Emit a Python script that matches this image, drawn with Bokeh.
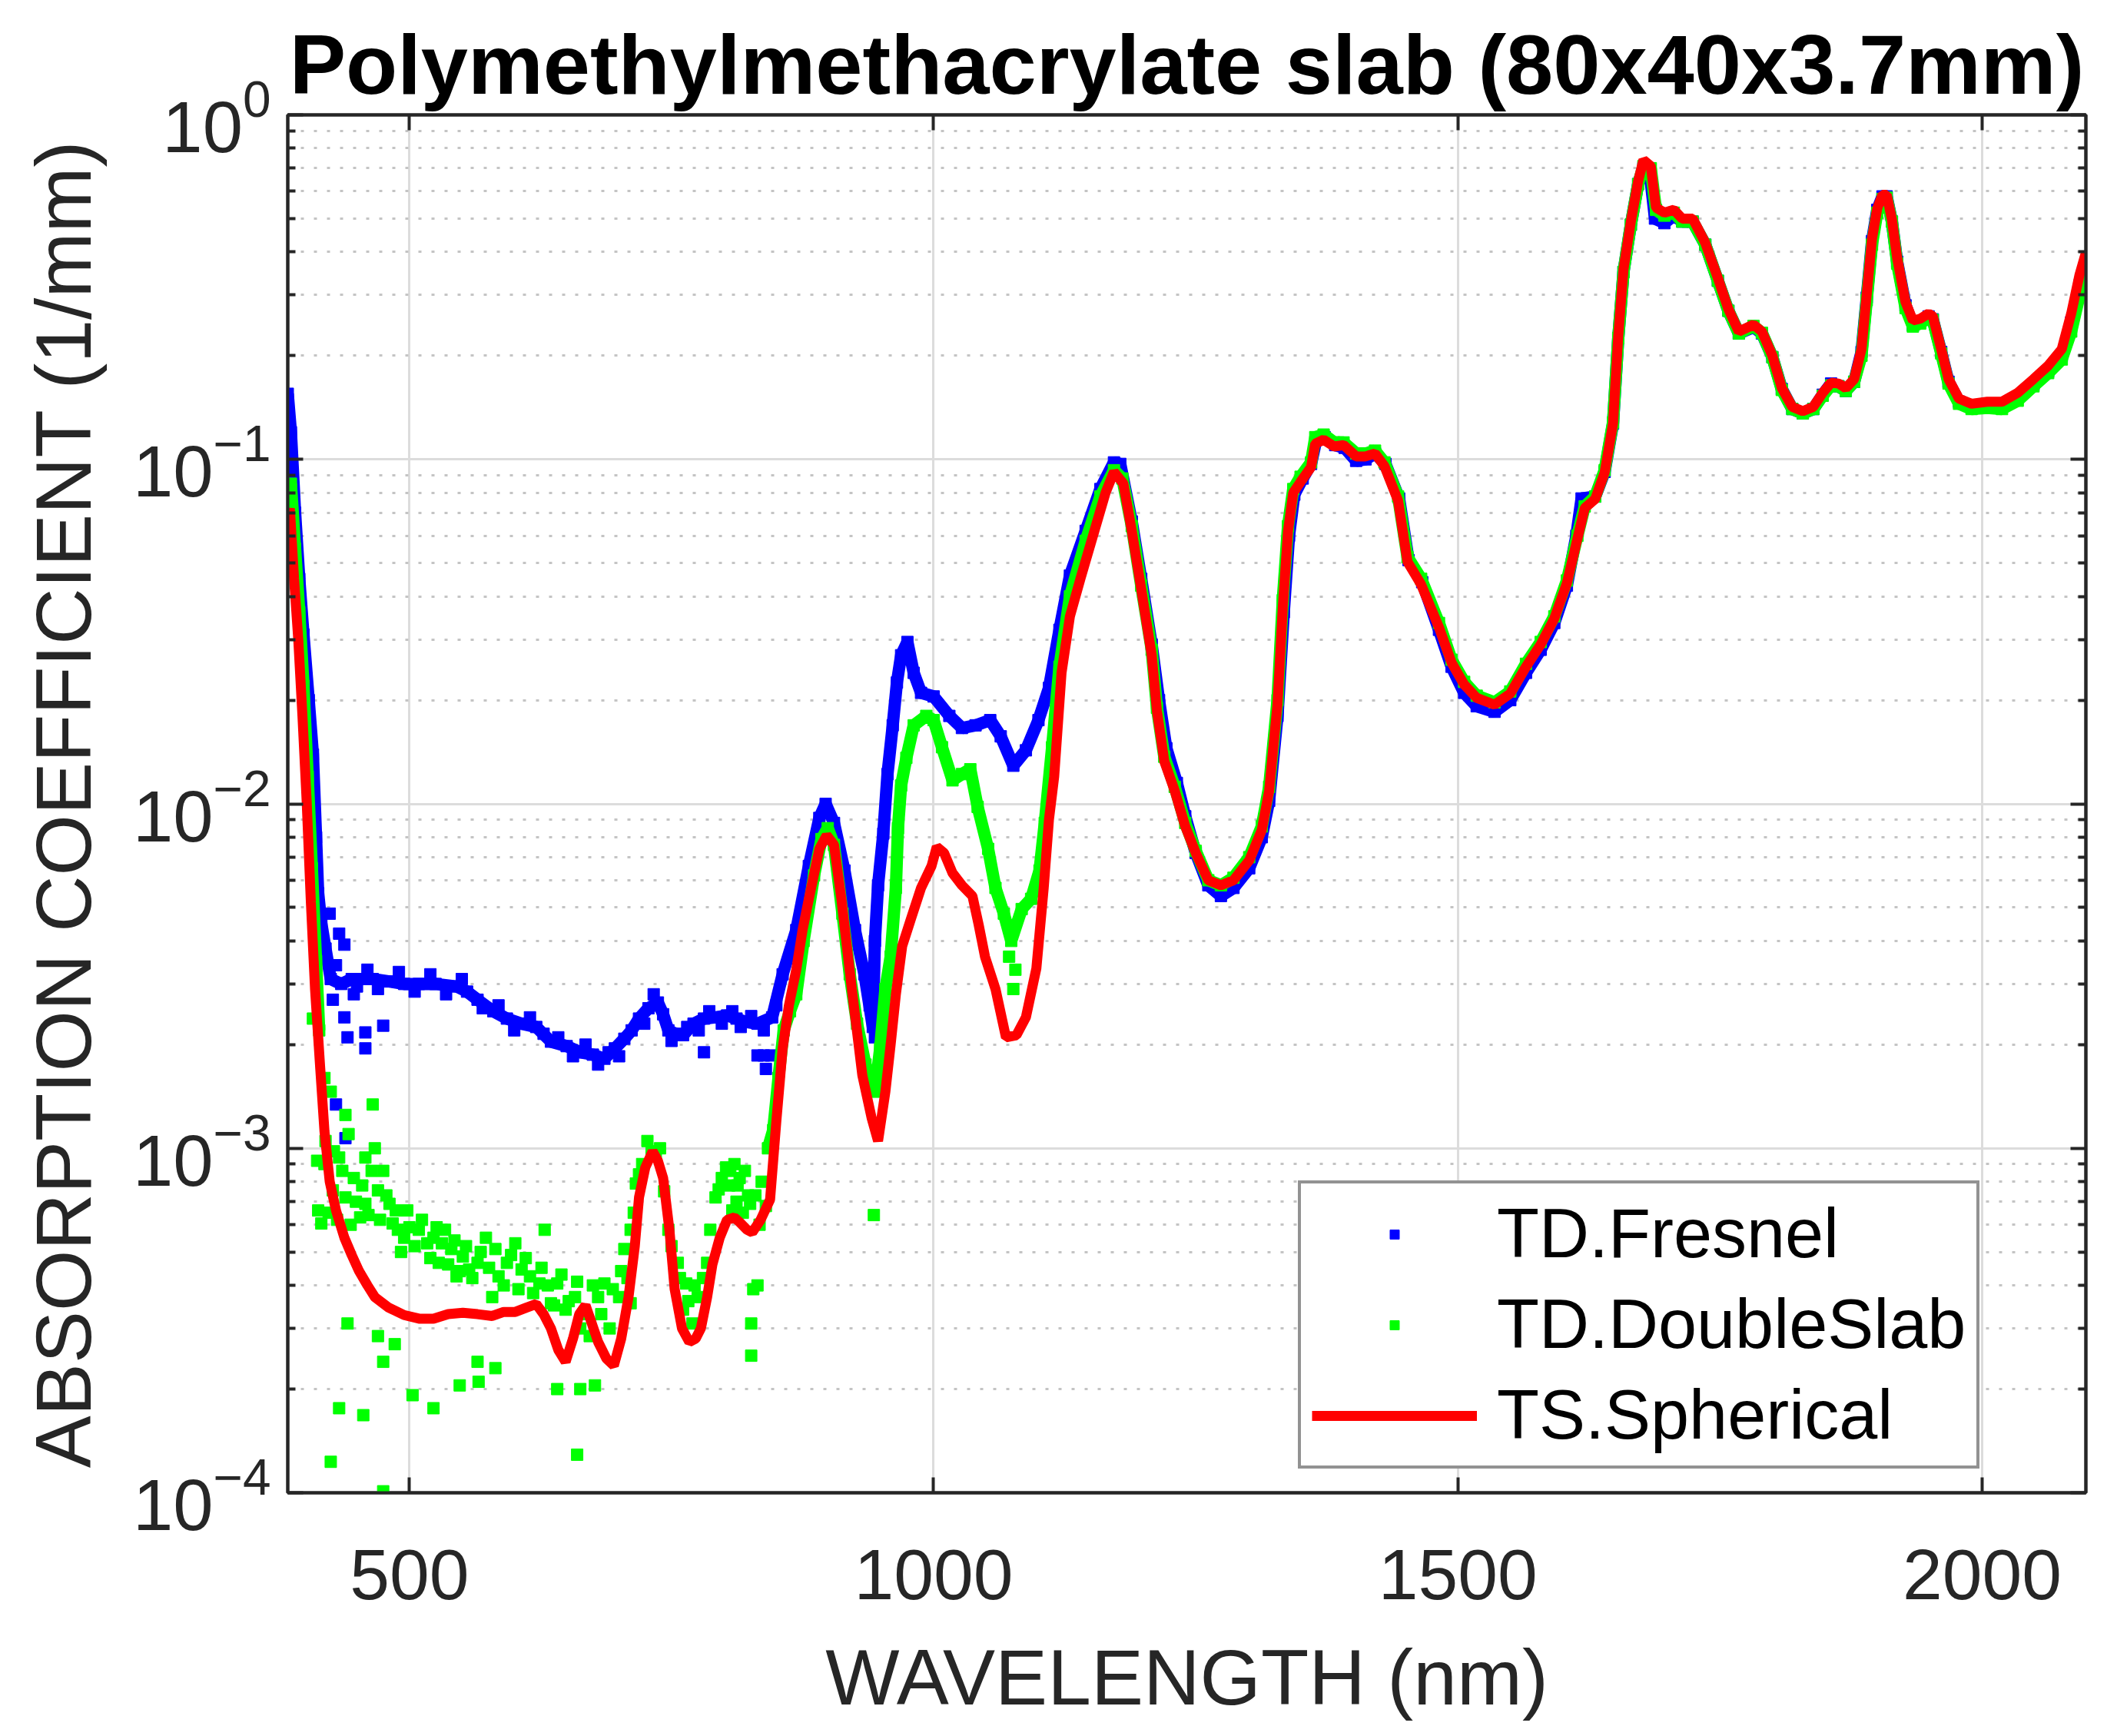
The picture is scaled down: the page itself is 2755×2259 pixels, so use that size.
import math
from bokeh.plotting import figure
from bokeh.models import (Range1d, FixedTicker, LinearAxis, LogAxis, Legend, LegendItem,
                          ColumnDataSource)
from bokeh.embed import file_html
from bokeh.resources import INLINE

NAN = float("nan")

# ---------------- data ----------------
title_text = "Polymethylmethacrylate slab (80x40x3.7mm)"
x_label = "WAVELENGTH (nm)"
y_label = "ABSORPTION COEFFICIENT (1/mm)"
series_names = ["TD.Fresnel", "TD.DoubleSlab", "TS.Spherical"]
x_ticks = [500, 1000, 1500, 2000]
y_ticks = [1e-4, 1e-3, 1e-2, 1e-1, 1e0]

red_wl = [384, 386, 390, 394, 398, 402, 406, 410, 415, 419, 424, 430, 438, 445, 452, 460, 467, 480, 495,
          510, 523, 537, 551, 565, 579, 590, 601, 612, 621, 628, 635, 642, 649, 656, 662, 668, 674, 680,
          688, 695, 702, 709, 715, 719, 725, 732, 737, 742, 748, 753, 760, 767, 773, 778, 784, 789, 796,
          803, 810, 815, 822, 827, 835, 844, 850, 856, 862, 869, 875, 881, 891, 898, 905, 912, 922, 932,
          941, 947, 954, 959, 964, 970, 978, 988, 998, 1003, 1010, 1018, 1027, 1037, 1043, 1049, 1059,
          1069, 1079, 1088, 1098, 1105, 1110, 1115, 1122, 1130, 1140, 1152, 1164, 1172, 1181, 1189, 1198,
          1208, 1213, 1220, 1230, 1240, 1250, 1262, 1274, 1286, 1301, 1313, 1320, 1328, 1333, 1338, 1343,
          1350, 1360, 1364, 1372, 1382, 1391, 1403, 1412, 1421, 1430, 1443, 1452, 1465, 1482, 1494, 1506,
          1518, 1535, 1550, 1565, 1579, 1592, 1604, 1614, 1621, 1631, 1640, 1648, 1653, 1658, 1665, 1672,
          1677, 1684, 1689, 1697, 1706, 1714, 1724, 1736, 1748, 1758, 1768, 1782, 1790, 1800, 1809, 1819,
          1829, 1839, 1848, 1856, 1863, 1870, 1878, 1885, 1890, 1895, 1900, 1905, 1909, 1914, 1919, 1927,
          1934, 1941, 1949, 1953, 1961, 1968, 1978, 1990, 2005, 2019, 2034, 2049, 2063, 2076, 2085, 2093,
          2099]
red_ab = [0.068, 0.072, 0.045, 0.030, 0.018, 0.0102, 5.2e-3, 2.9e-3, 1.7e-3, 1.12e-3, 8.0e-4, 6.6e-4,
          5.5e-4, 4.9e-4, 4.4e-4, 4.0e-4, 3.7e-4, 3.45e-4, 3.28e-4, 3.2e-4, 3.2e-4, 3.3e-4, 3.33e-4,
          3.3e-4, 3.26e-4, 3.35e-4, 3.35e-4, 3.45e-4, 3.53e-4, 3.3e-4, 3.0e-4, 2.6e-4, 2.4e-4, 2.8e-4,
          3.3e-4, 3.5e-4, 3.1e-4, 2.74e-4, 2.45e-4, 2.34e-4, 2.8e-4, 3.7e-4, 5.2e-4, 7.2e-4, 8.8e-4,
          9.8e-4, 9.2e-4, 8.2e-4, 5.8e-4, 3.9e-4, 3.0e-4, 2.74e-4, 2.8e-4, 3.0e-4, 3.7e-4, 4.6e-4, 5.5e-4,
          6.2e-4, 6.3e-4, 6.1e-4, 5.8e-4, 5.7e-4, 6.2e-4, 7.1e-4, 1.2e-3, 1.95e-3, 2.6e-3, 3.3e-3, 4.3e-3,
          5.3e-3, 7.4e-3, 8.1e-3, 7.6e-3, 5.3e-3, 2.9e-3, 1.63e-3, 1.22e-3, 1.05e-3, 1.46e-3, 2.0e-3,
          2.8e-3, 3.86e-3, 4.6e-3, 5.7e-3, 6.6e-3, 7.5e-3, 7.2e-3, 6.3e-3, 5.8e-3, 5.4e-3, 4.45e-3, 3.6e-3,
          2.9e-3, 2.1e-3, 2.13e-3, 2.4e-3, 3.33e-3, 5.7e-3, 9.0e-3, 1.2e-2, 2.4e-2, 3.5e-2, 4.5e-2, 6.0e-2,
          8.0e-2, 0.092, 0.085, 0.062, 0.042, 0.027, 0.0186, 0.0133, 0.0109, 8.6e-3, 7.2e-3, 6.0e-3,
          5.8e-3, 6.0e-3, 6.85e-3, 8.4e-3, 0.0109, 0.0195, 0.037, 0.062, 0.080, 0.086, 0.095, 0.111, 0.114,
          0.109, 0.110, 0.102, 0.102, 0.104, 0.0955, 0.0758, 0.0504, 0.0433, 0.0325, 0.0257, 0.0222, 0.0203,
          0.0194, 0.0209, 0.025, 0.029, 0.0345, 0.0437, 0.0588, 0.0722, 0.0767, 0.0916, 0.127, 0.229, 0.356,
          0.49, 0.643, 0.74, 0.71, 0.538, 0.52, 0.53, 0.50, 0.50, 0.425, 0.336, 0.273, 0.235, 0.246, 0.235,
          0.200, 0.161, 0.142, 0.138, 0.142, 0.156, 0.167, 0.166, 0.161, 0.171, 0.209, 0.302, 0.436, 0.535,
          0.586, 0.586, 0.497, 0.384, 0.286, 0.253, 0.256, 0.265, 0.260, 0.209, 0.171, 0.150, 0.145, 0.147,
          0.147, 0.156, 0.171, 0.187, 0.209, 0.265, 0.344, 0.398]

blue_wl = [384, 387, 391, 395, 399, 404, 408, 411, 413, 416, 420, 425, 435, 445, 453, 465, 481, 495, 509,
           525, 545, 555, 565, 580, 593, 607, 621, 635, 650, 663, 675, 686, 696, 705, 712, 719, 728, 737,
           742, 747, 754, 761, 771, 781, 792, 803, 812, 820, 832, 846, 856, 869, 881, 891, 897, 905, 915,
           925, 934, 942, 944, 947, 952, 956, 961, 965, 969, 975, 981, 988, 1000, 1015, 1027, 1040, 1054,
           1064, 1076, 1088, 1100, 1110, 1120, 1130, 1145, 1159, 1172, 1178, 1189, 1198, 1208, 1215, 1222,
           1232, 1240, 1250, 1262, 1274, 1286, 1301, 1313, 1320, 1328, 1334, 1339, 1344, 1352, 1360, 1365,
           1373, 1383, 1392, 1403, 1412, 1421, 1431, 1444, 1453, 1466, 1482, 1494, 1506, 1518, 1535, 1550,
           1565, 1579, 1592, 1604, 1613, 1618, 1631, 1640, 1648, 1653, 1658, 1665, 1672, 1677, 1683, 1688,
           1697, 1706, 1714, 1724, 1736, 1748, 1758, 1768, 1782, 1790, 1800, 1809, 1819, 1829, 1839, 1848,
           1856, 1863, 1870, 1878, 1885, 1890, 1895, 1900, 1905, 1909, 1914, 1919, 1927, 1934, 1941, 1949,
           1953, 1961, 1968, 1978, 1990, 2005, 2019, 2034, 2049, 2063, 2076, 2085, 2093, 2099]
blue_ab = [0.155, 0.12, 0.07, 0.045, 0.031, 0.020, 0.0139, 8.0e-3, 5.5e-3, 4.5e-3, 3.8e-3, 3.1e-3, 3.0e-3,
           3.1e-3, 3.1e-3, 3.1e-3, 3.05e-3, 3.0e-3, 3.0e-3, 3.0e-3, 2.95e-3, 2.85e-3, 2.7e-3, 2.5e-3,
           2.38e-3, 2.3e-3, 2.25e-3, 2.04e-3, 1.98e-3, 1.9e-3, 1.87e-3, 1.82e-3, 1.95e-3, 2.08e-3, 2.2e-3,
           2.38e-3, 2.55e-3, 2.65e-3, 2.45e-3, 2.2e-3, 2.15e-3, 2.13e-3, 2.3e-3, 2.38e-3, 2.4e-3, 2.43e-3,
           2.38e-3, 2.33e-3, 2.3e-3, 2.4e-3, 3.2e-3, 4.3e-3, 6.6e-3, 9.1e-3, 1.0e-2, 8.8e-3, 6.4e-3, 4.3e-3,
           3.2e-3, 2.25e-3, 4.0e-3, 5.8e-3, 8.2e-3, 1.22e-2, 1.69e-2, 2.25e-2, 2.7e-2, 2.95e-2, 2.4e-2,
           2.1e-2, 2.05e-2, 1.8e-2, 1.66e-2, 1.69e-2, 1.75e-2, 1.57e-2, 1.29e-2, 1.43e-2, 1.75e-2, 2.17e-2,
           3.2e-2, 4.6e-2, 6.2e-2, 8.2e-2, 0.098, 0.097, 0.066, 0.045, 0.029, 0.020, 0.0145, 0.0115, 9.2e-3,
           7.2e-3, 5.8e-3, 5.4e-3, 5.7e-3, 6.5e-3, 8.0e-3, 0.0102, 0.018, 0.036, 0.060, 0.079, 0.088, 0.097,
           0.114, 0.116, 0.110, 0.108, 0.099, 0.100, 0.104, 0.097, 0.077, 0.051, 0.044, 0.032, 0.025, 0.021,
           0.0192, 0.0185, 0.020, 0.024, 0.028, 0.0335, 0.043, 0.060, 0.077, 0.078, 0.092, 0.127, 0.225,
           0.35, 0.48, 0.63, 0.70, 0.68, 0.50, 0.485, 0.51, 0.49, 0.49, 0.42, 0.33, 0.27, 0.232, 0.242, 0.232,
           0.198, 0.160, 0.140, 0.136, 0.140, 0.154, 0.166, 0.163, 0.158, 0.168, 0.205, 0.295, 0.43, 0.53,
           0.58, 0.58, 0.49, 0.375, 0.28, 0.245, 0.25, 0.26, 0.255, 0.205, 0.168, 0.147, 0.143, 0.145, 0.145,
           0.152, 0.165, 0.180, 0.200, 0.250, 0.320, 0.370]

blue_scatter_wl = [410, 416, 424, 427, 430, 433, 438, 438, 439, 441, 450, 458, 458, 475, 781, 832, 838,
                   845, 840, 942, 944, 944, 939,
                   430, 447, 460, 470, 490, 505, 520, 535, 550, 570, 585, 600, 615, 628, 642, 656, 668,
                   680, 690, 700, 724, 733, 750, 765, 776, 786, 798, 808, 816, 826, 838, 850]
blue_scatter_ab = [5.5e-3, 4.2e-3, 4.8e-3, 2.7e-3, 1.34e-3, 4.2e-3, 3.9e-3, 2.4e-3, 1.07e-3, 2.1e-3,
                   2.95e-3, 2.17e-3, 1.95e-3, 2.27e-3, 1.9e-3, 1.86e-3, 1.86e-3, 1.86e-3, 1.7e-3, 3.2e-3,
                   2.1e-3, 2.8e-3, 2.6e-3,
                   3.4e-3, 2.8e-3, 3.3e-3, 2.9e-3, 3.25e-3, 2.85e-3, 3.2e-3, 2.8e-3, 3.1e-3, 2.55e-3,
                   2.6e-3, 2.2e-3, 2.4e-3, 2.15e-3, 2.1e-3, 1.85e-3, 2.0e-3, 1.75e-3, 1.9e-3, 1.85e-3,
                   2.3e-3, 2.8e-3, 2.05e-3, 2.25e-3, 2.2e-3, 2.5e-3, 2.3e-3, 2.5e-3, 2.25e-3, 2.42e-3,
                   2.2e-3, 2.6e-3]

green_wl = [384, 387, 391, 395, 399, 403, 407, 411, 414, NAN, 842, 847, 852, 857, 863, 869, 876, 886,
            893, 899, 905, 913, 920, 927, 935, 944, 949, 954, 959, 964, 966, 969, 974, 981, 993, 1000,
            1008, 1018, 1027, 1035, 1042, 1052, 1059, 1067, 1074, 1084, 1093, 1101, 1106, 1113, 1120, 1130,
            1145, 1159, 1172, 1180, 1189, 1198, 1208, 1213, 1220, 1230, 1240, 1250, 1262, 1274, 1286, 1301,
            1313, 1320, 1328, 1333, 1338, 1343, 1350, 1360, 1364, 1372, 1382, 1391, 1403, 1412, 1421, 1430,
            1443, 1452, 1465, 1482, 1494, 1506, 1518, 1535, 1550, 1565, 1579, 1592, 1604, 1614, 1621, 1631,
            1640, 1648, 1653, 1658, 1665, 1672, 1677, 1684, 1689, 1697, 1706, 1714, 1724, 1736, 1748, 1758,
            1768, 1782, 1790, 1800, 1809, 1819, 1829, 1839, 1848, 1856, 1863, 1870, 1878, 1885, 1890, 1895,
            1900, 1905, 1909, 1914, 1919, 1927, 1934, 1941, 1949, 1953, 1961, 1968, 1978, 1990, 2005, 2019,
            2034, 2049, 2063, 2076, 2085, 2093, 2099]
green_ab = [0.082, 0.085, 0.055, 0.036, 0.022, 0.012, 6.5e-3, 3.5e-3, 2.2e-3, NAN, 1.0e-3, 1.13e-3,
            1.6e-3, 2.2e-3, 2.5e-3, 2.8e-3, 4.0e-3, 6.2e-3, 7.9e-3, 8.5e-3, 7.6e-3, 4.8e-3, 3.2e-3, 2.3e-3,
            1.75e-3, 1.46e-3, 1.95e-3, 2.9e-3, 3.6e-3, 5.7e-3, 8.5e-3, 1.13e-2, 1.36e-2, 1.69e-2, 1.8e-2,
            1.75e-2, 1.46e-2, 1.17e-2, 1.22e-2, 1.26e-2, 9.8e-3, 7.4e-3, 5.7e-3, 4.8e-3, 4.0e-3, 4.95e-3,
            5.3e-3, 6.4e-3, 8.8e-3, 1.46e-2, 2.5e-2, 4.0e-2, 5.8e-2, 7.8e-2, 0.093, 0.088, 0.064, 0.043, 0.028,
            0.019, 0.0137, 0.0112, 8.8e-3, 7.3e-3, 6.0e-3, 5.8e-3, 6.1e-3, 7.0e-3, 8.6e-3, 0.0112, 0.020,
            0.039, 0.064, 0.082, 0.089, 0.098, 0.116, 0.118, 0.112, 0.112, 0.104, 0.104, 0.106, 0.098, 0.078,
            0.052, 0.045, 0.0335, 0.0262, 0.0226, 0.0206, 0.0197, 0.0212, 0.0255, 0.0295, 0.035, 0.0445, 0.06,
            0.073, 0.078, 0.093, 0.128, 0.225, 0.35, 0.48, 0.63, 0.71, 0.70, 0.53, 0.51, 0.52, 0.49, 0.49,
            0.42, 0.33, 0.27, 0.232, 0.244, 0.233, 0.198, 0.159, 0.140, 0.136, 0.140, 0.153, 0.164, 0.163,
            0.158, 0.168, 0.200, 0.29, 0.42, 0.52, 0.57, 0.575, 0.49, 0.37, 0.275, 0.243, 0.248, 0.258, 0.254,
            0.203, 0.166, 0.145, 0.140, 0.141, 0.140, 0.148, 0.163, 0.178, 0.195, 0.235, 0.30, 0.356]

green_scatter_wl = [408, 412, 413, 416, 419, 419, 425, 427, 433, 439, 439, 447, 453, 458, 458, 464, 465,
                    470, 475, 481, 484, 489, 495, 500, 509, 517, 523, 528, 534, 540, 545, 551, 557, 565,
                    573, 579, 585, 593, 601, 607, 615, 624, 629, 635, 641, 649, 658, 663, 672, 680, 686,
                    691, 700, 705, 711, 716, 722, 731, 739, 747, 756, 764, 770, 775, 784, 792, 798, 805,
                    806, 810, 812, 815, 818, 820, 823, 826, 826, 828, 830, 832, 836, 840,
                    425, 433, 456, 441, 470, 475, 486, 503, 523, 475, 548, 565, 566, 582, 641, 663, 677,
                    660, 761, 711, 943, 1072, 1076, 1078,
                    420, 423, 428, 431, 436, 442, 444, 449, 455, 461, 467, 472, 478, 487, 492, 498, 505,
                    512, 520, 526, 531, 537, 543, 548, 554, 560, 568, 576, 582, 590, 597, 604, 611, 618,
                    626, 632, 638, 645, 652, 660, 667, 675, 683, 694, 702, 708, 714, 719, 727, 735, 743,
                    750, 758, 766, 772, 780, 787, 795, 802, 808, 813, 825, 834]
green_scatter_ab = [2.38e-3, 9.2e-4, 6.6e-4, 6.05e-4, 9.0e-4, 1.6e-3, 1.46e-3, 7.55e-4, 9.4e-4, 7.2e-4,
                    1.25e-3, 8.2e-4, 6.3e-4, 9.4e-4, 6.9e-4, 8.6e-4, 1.34e-3, 7.55e-4, 8.6e-4, 6.9e-4,
                    6.05e-4, 5.8e-4, 5.5e-4, 5.9e-4, 5.8e-4, 5.3e-4, 5.5e-4, 4.65e-4, 5.8e-4, 5.1e-4,
                    4.25e-4, 4.85e-4, 4.45e-4, 4.65e-4, 5.5e-4, 3.7e-4, 4.25e-4, 4.65e-4, 5.3e-4, 4.45e-4,
                    4.25e-4, 4.05e-4, 5.8e-4, 3.55e-4, 4.05e-4, 3.4e-4, 3.7e-4, 3.0e-4, 2.85e-4, 3.7e-4,
                    4.05e-4, 3.0e-4, 3.7e-4, 5.1e-4, 5.8e-4, 7.9e-4, 9.0e-4, 9.8e-4, 1.0e-3, 5.8e-4, 4.65e-4,
                    4.05e-4, 3.1e-4, 3.7e-4, 4.65e-4, 7.2e-4, 8.2e-4, 7.8e-4, 8.6e-4, 9.0e-4, 7.0e-4, 8.2e-4,
                    6.5e-4, 8.6e-4, 7.3e-4, 2.5e-4, 3.1e-4, 3.9e-4, 7.3e-4, 4.0e-4, 8.0e-4, 6.8e-4,
                    1.23e-4, 1.76e-4, 1.68e-4, 3.1e-4, 2.85e-4, 2.4e-4, 2.7e-4, 1.92e-4, 1.76e-4, 1.01e-4,
                    2.05e-4, 2.4e-4, 2.1e-4, 2.3e-4, 2.0e-4, 2.0e-4, 2.05e-4, 1.29e-4, 3.4e-4, 3.55e-4,
                    6.4e-4, 3.6e-3, 2.9e-3, 3.3e-3,
                    1.05e-3, 6.5e-4, 9.8e-4, 6.2e-4, 8.6e-4, 1.1e-3, 6.0e-4, 7.0e-4, 7.8e-4, 6.4e-4, 1.0e-3,
                    6.2e-4, 7.3e-4, 6.6e-4, 5.0e-4, 6.6e-4, 5.2e-4, 6.2e-4, 4.8e-4, 5.9e-4, 5.3e-4, 4.6e-4,
                    5.4e-4, 4.4e-4, 5.2e-4, 4.2e-4, 5.0e-4, 4.5e-4, 5.1e-4, 4.0e-4, 4.9e-4, 3.9e-4, 4.8e-4,
                    3.8e-4, 4.5e-4, 4.0e-4, 3.5e-4, 4.3e-4, 3.6e-4, 4.1e-4, 3.3e-4, 4.0e-4, 3.3e-4, 3.9e-4,
                    4.4e-4, 4.2e-4, 6.5e-4, 8.4e-4, 1.05e-3, 9.5e-4, 7.5e-4, 5.2e-4, 4.2e-4, 3.6e-4, 4.0e-4,
                    4.2e-4, 5.8e-4, 7.6e-4, 8.8e-4, 6.6e-4, 7.8e-4, 6.9e-4, 6.0e-4]

# ---------------- styling ----------------
FONT = "Liberation Sans"
AXC = "#262626"
BLUE, GREEN, RED = "#0000ff", "#00ff00", "#ff0000"

p = figure(width=2739, height=2243, output_backend="svg", toolbar_location=None,
           x_range=Range1d(384, 2099), y_range=Range1d(1e-4, 1.0), y_axis_type="log",
           min_border_left=374, min_border_right=25, min_border_top=149, min_border_bottom=301,
           background_fill_color="white", border_fill_color="white")

p.title.text = title_text
p.title.text_font = FONT
p.title.text_font_size = "110px"
p.title.text_font_style = "bold"
p.title.text_color = "black"
p.title.align = "center"

p.outline_line_color = AXC
p.outline_line_width = 4

minor = [k * 10.0 ** e for e in range(-4, 0) for k in range(2, 10)]
yticker = FixedTicker(ticks=y_ticks, minor_ticks=minor)
xticker = FixedTicker(ticks=x_ticks, minor_ticks=[])

ax_common = dict(axis_line_color=AXC, axis_line_width=4, major_tick_line_color=AXC,
                 major_tick_line_width=4, minor_tick_line_color=AXC, minor_tick_line_width=4,
                 major_tick_in=20, major_tick_out=0, minor_tick_in=10, minor_tick_out=0,
                 major_label_text_font=FONT, major_label_text_color=AXC,
                 axis_label_text_font=FONT, axis_label_text_color=AXC,
                 axis_label_text_font_style="normal")
xa = p.xaxis[0]
xa.update(**ax_common)
xa.ticker = xticker
xa.axis_label = x_label
xa.major_label_text_font_size = "93px"
xa.axis_label_text_font_size = "102px"
xa.major_label_standoff = 74
xa.axis_label_standoff = 42

ya = p.yaxis[0]
ya.update(**ax_common)
ya.ticker = yticker
ya.axis_label = y_label
ya.major_label_text_font_size = "94px"
ya.axis_label_text_font_size = "102px"
ya.major_label_standoff = 22
ya.axis_label_standoff = 30

# mirrored axes on top and right (box with inward ticks), labels invisible
top_ax = LinearAxis(ticker=xticker)
top_ax.update(**ax_common)
top_ax.major_label_text_font_size = "8px"
top_ax.major_label_text_alpha = 0.0
top_ax.major_label_standoff = 0
right_ax = LogAxis(ticker=yticker)
right_ax.update(**ax_common)
right_ax.major_label_text_font_size = "8px"
right_ax.major_label_text_alpha = 0.0
right_ax.major_label_standoff = 0
p.add_layout(top_ax, "above")
p.add_layout(right_ax, "right")

p.xgrid.ticker = xticker
p.xgrid.grid_line_color = "#dcdcdc"
p.xgrid.grid_line_width = 3
p.ygrid.ticker = yticker
p.ygrid.grid_line_color = "#dcdcdc"
p.ygrid.grid_line_width = 3
p.ygrid.minor_grid_line_color = "#c4c4c4"
p.ygrid.minor_grid_line_width = 3
p.ygrid.minor_grid_line_dash = "4 13"

# ---------------- series ----------------
blue_src = ColumnDataSource(dict(x=blue_wl, y=blue_ab))
green_src = ColumnDataSource(dict(x=green_wl, y=green_ab))
red_src = ColumnDataSource(dict(x=red_wl, y=red_ab))

p.line("x", "y", source=blue_src, line_color=BLUE, line_width=16)
r_blue = p.scatter("x", "y", source=blue_src, marker="square", size=15, color=BLUE)
p.scatter(blue_scatter_wl, blue_scatter_ab, marker="square", size=15, color=BLUE)

p.line("x", "y", source=green_src, line_color=GREEN, line_width=16)
r_green = p.scatter("x", "y", source=green_src, marker="square", size=15, color=GREEN)
p.scatter(green_scatter_wl, green_scatter_ab, marker="square", size=15, color=GREEN)

r_red = p.line("x", "y", source=red_src, line_color=RED, line_width=13)

legend = Legend(items=[LegendItem(label=series_names[0], renderers=[r_blue]),
                       LegendItem(label=series_names[1], renderers=[r_green]),
                       LegendItem(label=series_names[2], renderers=[r_red])],
                location=(1315, 31), orientation="vertical",
                label_text_font=FONT, label_text_font_size="90px", label_text_color="black",
                glyph_width=215, glyph_height=30, label_height=100, spacing=15,
                padding=14, margin=0, label_standoff=26,
                border_line_color=AXC, border_line_width=4,
                background_fill_color="white", background_fill_alpha=1.0)
p.add_layout(legend, "center")

open("out.html", "w").write(file_html(p, INLINE))
